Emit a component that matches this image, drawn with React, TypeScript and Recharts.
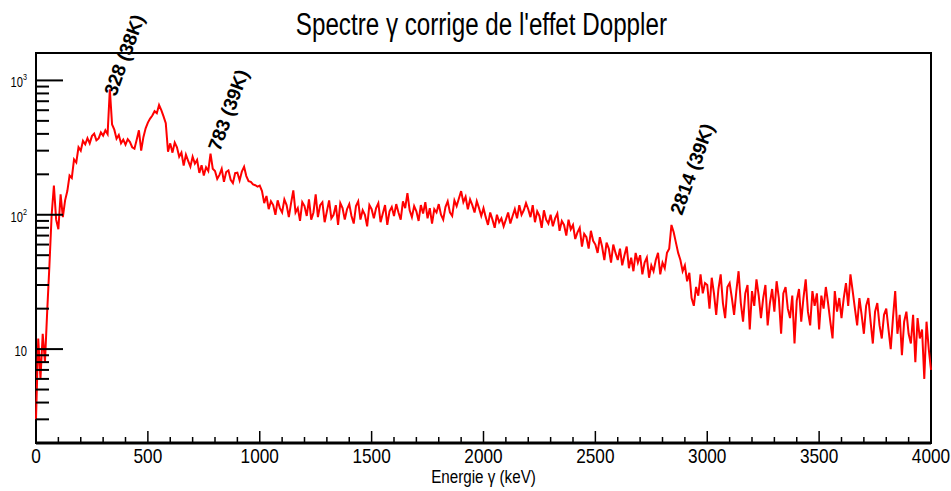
import React from 'react';
import { LineChart, Line, XAxis, YAxis, ReferenceArea, ReferenceDot } from 'recharts';

const BIN_KEV = 10;

// counts per 10 keV bin
const countsLow = [
  3, 12, 6, 13, 8, 19, 42, 100, 165, 92,
  78, 142, 96, 128, 150, 196, 188, 258, 245, 318,
  300, 355, 335, 372, 340, 385, 402, 358, 370, 410,
  388, 425, 398, 860, 470, 430, 368, 392, 340, 362,
  332, 365, 348, 318, 310, 362, 425, 300, 378, 440,
  485, 520, 548, 590, 570, 655, 600, 540, 480, 295,
  340, 290, 345, 318, 270, 290, 232, 280, 252, 228,
  270, 240, 256, 205, 234, 196, 226, 212, 285, 220,
  212, 185, 198, 220, 176, 208, 214, 182, 172, 204,
  206, 180, 210, 228, 194, 178, 176, 168, 166, 162,
];

const countsMid = [
  165, 150, 122, 138, 110, 126, 118, 100, 128, 112,
  104, 130, 118, 96, 122, 152, 104, 112, 90, 124,
  116, 98, 130, 92, 104, 142, 96, 118, 124, 88,
  106, 128, 94, 100, 118, 84, 122, 112, 92, 110,
  120, 98, 86, 116, 126, 92, 108, 100, 82, 118,
  110, 94, 112, 122, 88, 102, 118, 84, 106, 114,
  98, 120, 104, 92, 126, 112, 145, 108, 96, 116,
  106, 90, 118, 102, 124, 94, 112, 86, 110, 104,
  120, 100, 92, 114, 126, 104, 98, 128, 116, 132,
  150, 124, 136, 110, 130, 118, 104, 126, 112, 98,
];

const countsHigh = [
  112, 96, 84, 104, 92, 80, 100, 88, 94, 82,
  92, 104, 86, 98, 110, 94, 118, 100, 108, 122,
  110, 96, 118, 88, 106, 98, 80, 108, 92, 86,
  100, 82, 94, 102, 76, 90, 84, 70, 92, 78,
  84, 66, 74, 80, 58, 72, 68, 56, 76, 64,
  60, 52, 68, 58, 46, 62, 56, 44, 60, 52,
  46, 56, 42, 50, 58, 40, 48, 38, 52, 44,
  50, 36, 44, 48, 34, 42, 38, 46, 52, 36,
  44, 40, 52, 56, 84, 74, 62, 52, 46, 38,
  42, 32, 37, 24, 21, 29, 25, 36, 26, 31,
];

const countsTail = [
  30, 20, 34, 26, 18, 28, 36, 22, 17, 29,
  31, 24, 18, 27, 38, 22, 16, 26, 30, 14,
  27, 21, 33, 25, 17, 24, 30, 15, 22, 28,
  19, 32, 24, 13, 26, 29, 20, 17, 25, 11,
  23, 28, 16, 24, 33, 19, 15, 27, 21, 26,
  14, 25, 20, 29, 22, 16, 12, 27, 19, 24,
  17, 24, 31, 21, 36, 27, 20, 15, 24, 18,
  13, 21, 24, 16, 11, 19, 22, 15, 12, 18,
  20, 14, 10, 17, 27, 13, 18, 9, 16, 19,
  13, 11, 18, 8, 17, 12, 14, 6, 16, 10,
  7,
];

const xTicks = [
  0, 100, 200, 300, 400, 500, 600, 700, 800, 900, 1000, 1100, 1200, 1300, 1400,
  1500, 1600, 1700, 1800, 1900, 2000, 2100, 2200, 2300, 2400, 2500, 2600, 2700,
  2800, 2900, 3000, 3100, 3200, 3300, 3400, 3500, 3600, 3700, 3800, 3900, 4000,
];
const xTickLabels = [0, 500, 1000, 1500, 2000, 2500, 3000, 3500, 4000];

const yTicks = [
  2, 3, 4, 5, 6, 7, 8, 9, 10, 20, 30, 40, 50, 60, 70, 80, 90,
  100, 200, 300, 400, 500, 600, 700, 800, 900, 1000,
];
const yDecades = [10, 100, 1000];
const yDecadeExponents = [1, 2, 3];

const peakLabels = ['328 (38K)', '783 (39K)', '2814 (39K)'];
const peakLabelEnergy = [357, 822, 2887];
const peakLabelCounts = [752, 293, 98];

const counts = [...countsLow, ...countsMid, ...countsHigh, ...countsTail];
const data = counts.map((c, i) => ({ energy: i * BIN_KEV, counts: c }));

const FONT = "'Liberation Sans', Arial, Helvetica, sans-serif";

function XTick(props: any) {
  const { x, y, payload } = props;
  const major = xTickLabels.includes(payload.value);
  return (
    <g>
      <line x1={x} x2={x} y1={y} y2={y - (major ? 12 : 6)} stroke="#000" strokeWidth={1.5} />
      {major && (
        <text
          transform={`translate(${x},${y + 20}) scale(0.82,1)`}
          textAnchor="middle"
          fontSize={21}
          fontFamily={FONT}
          fill="#000"
        >
          {payload.value}
        </text>
      )}
    </g>
  );
}

function YTick(props: any) {
  const { x, y, payload } = props;
  const idx = yDecades.indexOf(payload.value);
  const major = idx >= 0;
  const exp = major ? yDecadeExponents[idx] : 0;
  return (
    <g>
      <line x1={x} x2={x + (major ? 27 : 13)} y1={y} y2={y} stroke="#000" strokeWidth={2} />
      {major && (
        <text
          transform={`translate(${x - 9},${y + 7}) scale(0.8,1)`}
          textAnchor="end"
          fontSize={14}
          fontFamily={FONT}
          fill="#000"
        >
          10
          {exp > 1 && (
            <tspan dy={-7} fontSize={9}>
              {exp}
            </tspan>
          )}
        </text>
      )}
    </g>
  );
}

function AxisTitle(props: any) {
  const vb = props.viewBox;
  return (
    <text
      transform={`translate(${vb.x + vb.width / 2},${vb.y + 40}) scale(0.8,1)`}
      textAnchor="middle"
      fontSize={19}
      fontFamily={FONT}
      fill="#000"
    >
      Energie γ (keV)
    </text>
  );
}

export default function App() {
  return (
    <div style={{ position: 'absolute', left: 0, top: 0, width: 951, height: 491, background: '#fff' }}>
      <div
        style={{
          position: 'absolute',
          left: 0,
          width: 963,
          top: 9,
          textAlign: 'center',
          fontFamily: FONT,
          fontSize: 31,
          lineHeight: '31px',
          color: '#000',
          transform: 'scaleX(0.78)',
          transformOrigin: '481px 0',
          whiteSpace: 'nowrap',
        }}
      >
        Spectre γ corrige de l'effet Doppler
      </div>
      <LineChart width={951} height={491} data={data} margin={{ top: 53, right: 20, bottom: 0, left: 0 }}>
        <XAxis
          dataKey="energy"
          type="number"
          domain={[0, 4000]}
          ticks={xTicks}
          interval={0}
          tick={<XTick />}
          tickLine={false}
          tickSize={0}
          tickMargin={0}
          axisLine={{ stroke: '#000', strokeWidth: 3 }}
          height={48}
          label={<AxisTitle />}
        />
        <YAxis
          type="number"
          scale="log"
          domain={[2, 1600]}
          allowDataOverflow
          ticks={yTicks}
          interval={0}
          tick={<YTick />}
          tickLine={false}
          tickSize={0}
          tickMargin={0}
          axisLine={false}
          width={36}
        />
        <Line
          type="linear"
          dataKey="counts"
          stroke="#ff0000"
          strokeWidth={2}
          dot={false}
          isAnimationActive={false}
        />
        <ReferenceArea x1={0} x2={4000} y1={2} y2={1600} fill="none" stroke="#000" strokeWidth={2} ifOverflow="visible" />
        {peakLabels.map((t, i) => (
          <ReferenceDot
            key={t}
            x={peakLabelEnergy[i]}
            y={peakLabelCounts[i]}
            r={0}
            ifOverflow="visible"
            shape={(p: any) => (
              <text
                transform={`translate(${p.cx},${p.cy}) rotate(-70)`}
                fontSize={19}
                fontWeight="bold"
                fontFamily={FONT}
                fill="#000"
              >
                {t}
              </text>
            )}
          />
        ))}
      </LineChart>
    </div>
  );
}
